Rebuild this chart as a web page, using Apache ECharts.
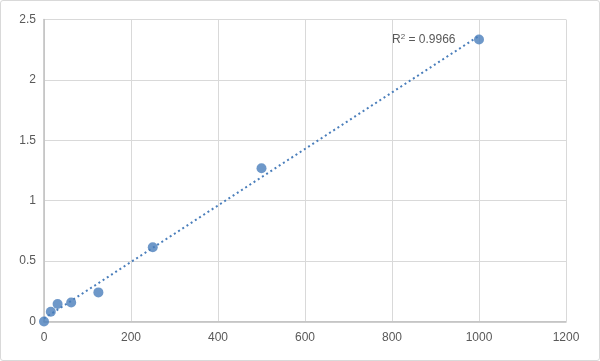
<!DOCTYPE html>
<html><head><meta charset="utf-8">
<script src="https://cdn.jsdelivr.net/npm/echarts@6/dist/echarts.min.js"></script>
<style>
html,body{margin:0;padding:0;background:#fff;}
#c{width:598px;height:359px;border:1px solid #d9d9d9;border-radius:3px;}
</style></head>
<body><div id="c"></div>
<script>
const xValues = [0, 15.625, 31.25, 62.5, 125, 250, 500, 1000];
const yValues = [0, 0.08, 0.145, 0.158, 0.241, 0.614, 1.268, 2.335];
const rSquaredText = '0.9966';

// least-squares trendline from the data
const n = xValues.length;
const mx = xValues.reduce((a,b)=>a+b,0)/n;
const my = yValues.reduce((a,b)=>a+b,0)/n;
let sxy=0, sxx=0;
for (let i=0;i<n;i++){ sxy+=(xValues[i]-mx)*(yValues[i]-my); sxx+=(xValues[i]-mx)**2; }
const slope = sxy/sxx, intercept = my - slope*mx;
const xMin = Math.min(...xValues), xMax = Math.max(...xValues);
const trend = [[xMin, intercept+slope*xMin],[xMax, intercept+slope*xMax]];

const chart = echarts.init(document.getElementById('c'));
const col = '#4a7ebb';
const font = 'Liberation Sans, Arial, sans-serif';
chart.setOption({
  animation:false,
  grid:{left:43, right:33, top:18.5, bottom:38.5},
  xAxis:{type:'value', min:0, max:1200, interval:200,
    axisLine:{lineStyle:{color:'#bfbfbf', width:1.5}}, axisTick:{show:false},
    axisLabel:{color:'#595959', fontFamily:font, fontSize:12, margin:10, formatter:v=>String(v)},
    splitLine:{lineStyle:{color:'#d9d9d9'}}},
  yAxis:{type:'value', min:0, max:2.5, interval:0.5,
    axisLine:{show:true, lineStyle:{color:'#bfbfbf', width:1.5}}, axisTick:{show:false},
    axisLabel:{color:'#595959', fontFamily:font, fontSize:12, margin:8, formatter:v=>String(v)},
    splitLine:{lineStyle:{color:'#d9d9d9'}}},
  series:[
    {type:'line', data:trend, symbol:'none', silent:true,
     lineStyle:{color:col, width:2, type:[2,3]}, z:2},
    {type:'scatter', data:xValues.map((x,i)=>[x,yValues[i]]),
     symbol:'circle', symbolSize:10, itemStyle:{color:col}, z:3}
  ],
  graphic:[{type:'text', left:391, top:32,
    style:{text:'{a|R}{s|2}{a| = '+rSquaredText+'}',
      rich:{a:{fontFamily:font, fontSize:12, fill:'#595959'},
            s:{fontFamily:font, fontSize:8, fill:'#595959', verticalAlign:'top', padding:[0,0,6,0]}}}}]
});
</script></body></html>
